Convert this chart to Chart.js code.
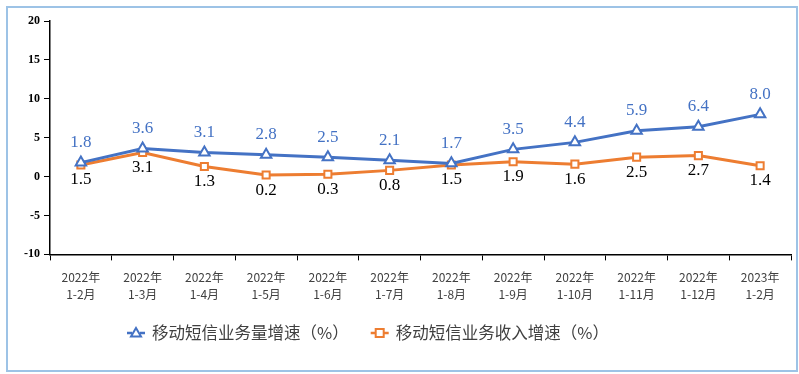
<!DOCTYPE html>
<html>
<head>
    <meta charset="UTF-8">
    <title>移动短信业务增速</title>
    <script src="https://cdn.jsdelivr.net/npm/chart.js"></script>
    <style>
        body { margin: 0; background: #fff; }
        #wrap { width: 799px; height: 374px; }
    </style>
</head>
<body>
    <div id="wrap"><canvas id="smsChart" width="799" height="374"></canvas></div>

    <script>
        var years = ['2022年', '2022年', '2022年', '2022年', '2022年', '2022年', '2022年', '2022年', '2022年', '2022年', '2022年', '2023年'];
        var months = ['1-2月', '1-3月', '1-4月', '1-5月', '1-6月', '1-7月', '1-8月', '1-9月', '1-10月', '1-11月', '1-12月', '1-2月'];
        var volumeGrowth = [1.8, 3.6, 3.1, 2.8, 2.5, 2.1, 1.7, 3.5, 4.4, 5.9, 6.4, 8.0];
        var revenueGrowth = [1.5, 3.1, 1.3, 0.2, 0.3, 0.8, 1.5, 1.9, 1.6, 2.5, 2.7, 1.4];
        var yTicks = [-10, -5, 0, 5, 10, 15, 20];

        var BLUE = '#4472C4';
        var ORANGE = '#ED7D31';

        var labels = [];
        for (var i = 0; i < years.length; i++) {
            labels.push([years[i], months[i]]);
        }

        var valueLabels = {
            id: 'valueLabels',
            afterDatasetsDraw: function(chart) {
                var ctx = chart.ctx;
                ctx.save();
                ctx.font = '17px "Liberation Serif", "Times New Roman", serif';
                ctx.textAlign = 'center';
                ctx.textBaseline = 'middle';
                chart.data.datasets.forEach(function(ds, di) {
                    var meta = chart.getDatasetMeta(di);
                    meta.data.forEach(function(pt, j) {
                        var v = ds.data[j].toFixed(1);
                        if (di === 0) {
                            ctx.fillStyle = BLUE;
                            ctx.fillText(v, pt.x, pt.y - 20);
                        } else {
                            ctx.fillStyle = '#000';
                            ctx.fillText(v, pt.x, pt.y + 15);
                        }
                    });
                });
                ctx.restore();
            }
        };

        // legend drawn by hand: line + hollow marker, then the text
        function drawIcon(ctx, x, y, color, shape) {
            ctx.strokeStyle = color;
            ctx.lineWidth = 2.5;
            ctx.beginPath();
            ctx.moveTo(x - 9, y); ctx.lineTo(x - 4, y);
            ctx.moveTo(x + 4, y); ctx.lineTo(x + 9, y);
            ctx.stroke();
            ctx.fillStyle = '#fff';
            ctx.lineWidth = 2;
            ctx.beginPath();
            if (shape === 'triangle') {
                ctx.moveTo(x, y - 5); ctx.lineTo(x + 5, y + 3.5); ctx.lineTo(x - 5, y + 3.5); ctx.closePath();
            } else {
                ctx.rect(x - 4, y - 4, 8, 8);
            }
            ctx.fill(); ctx.stroke();
        }

        var legendBox = {
            id: 'legendBox',
            afterDraw: function(chart) {
                var ctx = chart.ctx;
                var ds = chart.data.datasets;
                var y = 333;
                var x = 127;
                ctx.save();
                ctx.font = '16.5px "Noto Sans CJK SC", sans-serif';
                ctx.textBaseline = 'middle';
                ctx.textAlign = 'left';
                var shapes = ['triangle', 'square'];
                for (var k = 0; k < ds.length; k++) {
                    drawIcon(ctx, x + 9, y, ds[k].borderColor, shapes[k]);
                    x += 25;
                    ctx.fillStyle = '#404040';
                    ctx.fillText(ds[k].label, x, y);
                    x += ctx.measureText(ds[k].label).width + 22;
                }
                ctx.restore();
            }
        };

        var frame = {
            id: 'frame',
            beforeDraw: function(chart) {
                var ctx = chart.ctx;
                ctx.save();
                ctx.fillStyle = '#fff';
                ctx.fillRect(0, 0, chart.width, chart.height);
                ctx.strokeStyle = '#9DC3E6';
                ctx.lineWidth = 2;
                ctx.strokeRect(7, 7, 790, 364);
                ctx.restore();
            }
        };

        var ctx = document.getElementById('smsChart').getContext('2d');
        var smsChart = new Chart(ctx, {
            type: 'line',
            data: {
                labels: labels,
                datasets: [{
                    label: '移动短信业务量增速（%）',
                    data: volumeGrowth,
                    borderColor: BLUE,
                    backgroundColor: '#fff',
                    borderWidth: 3,
                    pointStyle: 'triangle',
                    pointRadius: 6,
                    pointBorderWidth: 2,
                    pointBorderColor: BLUE,
                    pointBackgroundColor: '#fff',
                    tension: 0
                }, {
                    label: '移动短信业务收入增速（%）',
                    data: revenueGrowth,
                    borderColor: ORANGE,
                    backgroundColor: '#fff',
                    borderWidth: 3,
                    pointStyle: 'rect',
                    pointRadius: 5,
                    pointBorderWidth: 2,
                    pointBorderColor: ORANGE,
                    pointBackgroundColor: '#fff',
                    tension: 0
                }]
            },
            options: {
                responsive: false,
                animation: false,
                layout: { padding: { left: 0, right: 6, top: 21, bottom: 62 } },
                plugins: {
                    tooltip: { enabled: false },
                    legend: { display: false }
                },
                scales: {
                    x: {
                        offset: true,
                        border: { color: '#000', width: 1.5 },
                        grid: { offset: true, drawOnChartArea: false, drawTicks: true, tickLength: 6, color: '#000' },
                        ticks: {
                            color: '#404040',
                            padding: 9,
                            maxRotation: 0,
                            autoSkip: false,
                            font: { family: '"Noto Sans CJK SC", sans-serif', size: 12, lineHeight: 1.4 }
                        }
                    },
                    y: {
                        min: -10,
                        max: 20,
                        afterFit: function(scale) { scale.width = 50; },
                        afterBuildTicks: function(scale) {
                            scale.ticks = yTicks.map(function(v) { return { value: v }; });
                        },
                        border: { color: '#000', width: 1.5 },
                        grid: { drawOnChartArea: false, drawTicks: true, tickLength: 6, color: '#000' },
                        ticks: {
                            color: '#000',
                            padding: 4,
                            font: { family: '"Liberation Serif", "Times New Roman", serif', size: 12, weight: 'bold' }
                        }
                    }
                }
            },
            plugins: [frame, valueLabels, legendBox]
        });
    </script>
</body>
</html>
